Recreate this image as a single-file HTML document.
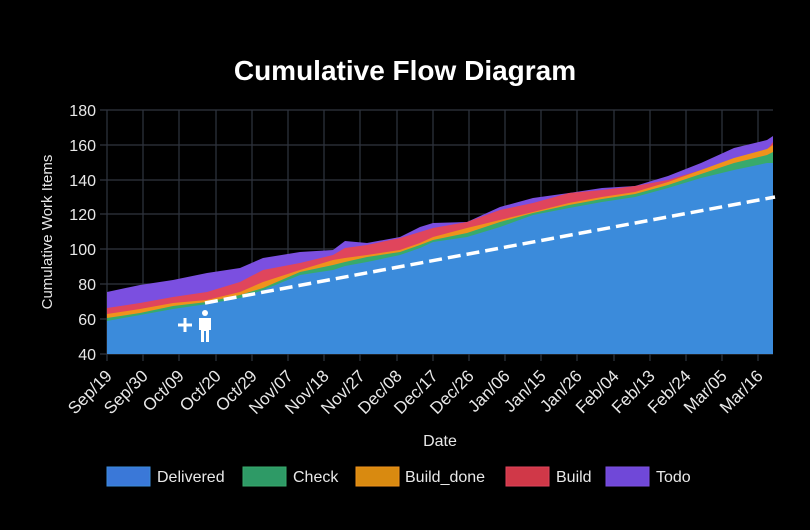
<!DOCTYPE html>
<html><head><meta charset="utf-8"><style>
html,body{margin:0;padding:0;background:#000;}
svg{display:block;font-family:"Liberation Sans",Arial,sans-serif;}
</style></head><body>
<svg width="810" height="530" viewBox="0 0 810 530" xmlns="http://www.w3.org/2000/svg">
<rect width="810" height="530" fill="#000"/>
<text x="405" y="80" fill="#fff" font-size="28" font-weight="bold" text-anchor="middle">Cumulative Flow Diagram</text>
<g stroke="#30353f" stroke-width="1.2">
<line x1="100" y1="110" x2="773" y2="110"/><line x1="100" y1="145" x2="773" y2="145"/>
<line x1="100" y1="180" x2="773" y2="180"/><line x1="100" y1="214" x2="773" y2="214"/>
<line x1="100" y1="249" x2="773" y2="249"/><line x1="100" y1="284" x2="773" y2="284"/>
<line x1="100" y1="319" x2="773" y2="319"/><line x1="100" y1="354" x2="773" y2="354"/>
<line x1="107" y1="110" x2="107" y2="361"/><line x1="143" y1="110" x2="143" y2="361"/>
<line x1="179" y1="110" x2="179" y2="361"/><line x1="216" y1="110" x2="216" y2="361"/>
<line x1="252" y1="110" x2="252" y2="361"/><line x1="288" y1="110" x2="288" y2="361"/>
<line x1="324" y1="110" x2="324" y2="361"/><line x1="360" y1="110" x2="360" y2="361"/>
<line x1="397" y1="110" x2="397" y2="361"/><line x1="433" y1="110" x2="433" y2="361"/>
<line x1="469" y1="110" x2="469" y2="361"/><line x1="505" y1="110" x2="505" y2="361"/>
<line x1="541" y1="110" x2="541" y2="361"/><line x1="577" y1="110" x2="577" y2="361"/>
<line x1="614" y1="110" x2="614" y2="361"/><line x1="650" y1="110" x2="650" y2="361"/>
<line x1="686" y1="110" x2="686" y2="361"/><line x1="722" y1="110" x2="722" y2="361"/>
<line x1="758" y1="110" x2="758" y2="361"/>
</g>
<polygon fill="#7b4fe0" points="107,354 107,292 140,285 173,280 207,273 240,268 263,258 300,252 333,250 345,241 367,243 400,237 420,227 433,223 467,222 500,207 533,198 569,193 602,188 635,186 668,176 701,163 734,148 767,140 773,136 773,354"/>
<polygon fill="#e0455c" points="107,354 107,308 140,303 173,297 207,292 240,282 263,270 300,263 333,255 345,248 367,245 400,238 420,232 433,228 467,222 500,210 533,203 569,193 602,190 635,186 668,180 701,170 734,160 767,150 773,142 773,354"/>
<polygon fill="#f0921c" points="107,354 107,314 140,309 173,303 207,300 240,292 263,282 300,270 333,260 345,258 367,255 400,250 420,243 433,237 467,228 500,220 533,212 569,203 602,197 635,192 668,182 701,170 734,158 767,149 773,145 773,354"/>
<polygon fill="#38aa6c" points="107,354 107,318 140,313 173,306 207,302 240,295 263,288 300,272 333,265 345,262 367,257 400,252 420,245 433,240 467,233 500,222 533,213 569,205 602,199 635,194 668,185 701,174 734,163 767,155 773,152 773,354"/>
<polygon fill="#3b8bdb" points="107,354 107,321 140,315 173,309 207,304 240,298 263,290 300,275 333,270 345,266 367,262 400,255 420,248 433,242 467,237 500,227 533,215 569,208 602,202 635,197 668,188 701,178 734,170 767,163 773,163 773,354"/>
<line x1="205" y1="303" x2="775" y2="197" stroke="#fff" stroke-width="3.5" stroke-dasharray="13,6"/>
<path d="M178 325 H192 M185 318 V332" stroke="#fff" stroke-width="3"/>
<circle cx="205" cy="313" r="3" fill="#fff"/>
<path d="M199 318 H211 V330 H209 V342 H206 V331 H204 V342 H201 V330 H199 Z" fill="#fff"/>
<g fill="#e8e8e8" font-size="16" text-anchor="end">
<text x="96" y="116">180</text><text x="96" y="151">160</text><text x="96" y="186">140</text>
<text x="96" y="220">120</text><text x="96" y="255">100</text><text x="96" y="290">80</text>
<text x="96" y="325">60</text><text x="96" y="360">40</text>
</g>
<text transform="translate(52,232) rotate(-90)" fill="#e8e8e8" font-size="15" text-anchor="middle">Cumulative Work Items</text>
<g fill="#e8e8e8" font-size="17" text-anchor="end">
<text transform="translate(113,377) rotate(-45)">Sep/19</text>
<text transform="translate(149,377) rotate(-45)">Sep/30</text>
<text transform="translate(185,377) rotate(-45)">Oct/09</text>
<text transform="translate(222,377) rotate(-45)">Oct/20</text>
<text transform="translate(258,377) rotate(-45)">Oct/29</text>
<text transform="translate(294,377) rotate(-45)">Nov/07</text>
<text transform="translate(330,377) rotate(-45)">Nov/18</text>
<text transform="translate(366,377) rotate(-45)">Nov/27</text>
<text transform="translate(403,377) rotate(-45)">Dec/08</text>
<text transform="translate(439,377) rotate(-45)">Dec/17</text>
<text transform="translate(475,377) rotate(-45)">Dec/26</text>
<text transform="translate(511,377) rotate(-45)">Jan/06</text>
<text transform="translate(547,377) rotate(-45)">Jan/15</text>
<text transform="translate(583,377) rotate(-45)">Jan/26</text>
<text transform="translate(620,377) rotate(-45)">Feb/04</text>
<text transform="translate(656,377) rotate(-45)">Feb/13</text>
<text transform="translate(692,377) rotate(-45)">Feb/24</text>
<text transform="translate(728,377) rotate(-45)">Mar/05</text>
<text transform="translate(764,377) rotate(-45)">Mar/16</text>
</g>
<text x="440" y="446" fill="#e8e8e8" font-size="16" text-anchor="middle">Date</text>
<g font-size="16" fill="#e8e8e8">
<rect x="107" y="467" width="43" height="19" fill="#3a78d8" stroke="#3b8bdb"/><text x="157" y="482">Delivered</text>
<rect x="243" y="467" width="43" height="19" fill="#2e9a66" stroke="#38aa6c"/><text x="293" y="482">Check</text>
<rect x="356" y="467" width="43" height="19" fill="#d98a10" stroke="#f0921c"/><text x="405" y="482">Build_done</text>
<rect x="506" y="467" width="43" height="19" fill="#d03848" stroke="#e0455c"/><text x="556" y="482">Build</text>
<rect x="606" y="467" width="43" height="19" fill="#7048d8" stroke="#7b4fe0"/><text x="656" y="482">Todo</text>
</g>
</svg>
</body></html>
